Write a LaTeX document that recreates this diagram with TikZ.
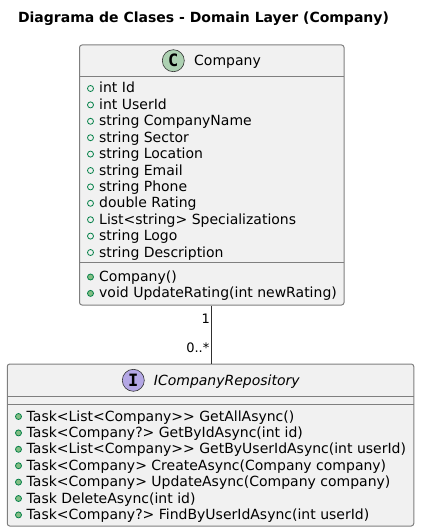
\documentclass[tikz,border=0pt]{standalone}
\usepackage{fontspec}
\setmainfont{DejaVu Sans}
\newfontfamily\spotfont{DejaVu Sans Mono}
\definecolor{boxfill}{HTML}{F1F1F1}
\definecolor{boxline}{HTML}{7F7F7F}
\definecolor{linkline}{HTML}{303030}
\definecolor{classspot}{HTML}{ADD1B2}
\definecolor{ifacespot}{HTML}{B4A7E5}
\definecolor{publine}{HTML}{038048}
\definecolor{pubfill}{HTML}{84BE84}
\tikzset{
    umlbox/.style={draw=boxline, fill=boxfill, line width=1pt, rounded corners=2.5pt, inner sep=0pt},
    sepline/.style={draw=boxline, line width=1pt},
    spot/.style={circle, draw=linkline, line width=0.6pt, minimum size=22pt, inner sep=0pt, font=\spotfont\bfseries\fontsize{17}{17}\selectfont},
    boxname/.style={anchor=base west, inner sep=0pt, font=\fontsize{14}{16}\selectfont},
    member/.style={anchor=base west, inner sep=0pt, font=\fontsize{14}{16}\selectfont},
    attrdot/.style={circle, draw=publine, line width=0.8pt, minimum size=6pt, inner sep=0pt},
    methdot/.style={circle, draw=publine, fill=pubfill, line width=0.8pt, minimum size=6pt, inner sep=0pt},
    multi/.style={inner sep=0pt, font=\fontsize{13}{15}\selectfont}
}
\begin{document}
\begin{tikzpicture}[x=1pt, y=-1pt]
    \useasboundingbox (0, 0) rectangle (420, 532);
    \node[anchor=base, inner sep=0pt, font=\bfseries\fontsize{14}{16}\selectfont] (title) at (203.5, 23) {Diagrama de Clases - Domain Layer (Company)};

    % class box
    \node[umlbox, minimum width=264.5pt, minimum height=260pt] (company) at (211.75, 175) {};
    \draw[sepline] (79.5, 77) -- (344, 77);
    \draw[sepline] (79.5, 262) -- (344, 262);
    \node[spot, fill=classspot] (companyspot) at (173.3, 60.7) {C};
    \node[boxname] (companyname) at (194, 65.5) {Company};

    \node[attrdot] (dot1) at (90.5, 88.5) {};
    \node[member] (attr1) at (99, 93) {int Id};
    \node[attrdot] (dot2) at (90.5, 104.9) {};
    \node[member] (attr2) at (99, 109.4) {int UserId};
    \node[attrdot] (dot3) at (90.5, 121.3) {};
    \node[member] (attr3) at (99, 125.8) {string CompanyName};
    \node[attrdot] (dot4) at (90.5, 137.7) {};
    \node[member] (attr4) at (99, 142.2) {string Sector};
    \node[attrdot] (dot5) at (90.5, 154.1) {};
    \node[member] (attr5) at (99, 158.6) {string Location};
    \node[attrdot] (dot6) at (90.5, 170.5) {};
    \node[member] (attr6) at (99, 175) {string Email};
    \node[attrdot] (dot7) at (90.5, 186.9) {};
    \node[member] (attr7) at (99, 191.4) {string Phone};
    \node[attrdot] (dot8) at (90.5, 203.3) {};
    \node[member] (attr8) at (99, 207.8) {double Rating};
    \node[attrdot] (dot9) at (90.5, 219.7) {};
    \node[member] (attr9) at (99, 224.2) {List<string> Specializations};
    \node[attrdot] (dot10) at (90.5, 236.1) {};
    \node[member] (attr10) at (99, 240.6) {string Logo};
    \node[attrdot] (dot11) at (90.5, 252.5) {};
    \node[member] (attr11) at (99, 257) {string Description};

    \node[methdot] (dot12) at (90.5, 277) {};
    \node[member] (meth1) at (99, 281.5) {Company()};
    \node[methdot] (dot13) at (90.5, 293.4) {};
    \node[member] (meth2) at (99, 297.9) {void UpdateRating(int newRating)};

    % interface box
    \node[umlbox, minimum width=406.5pt, minimum height=162pt] (repo) at (210.5, 445) {};
    \draw[sepline] (7.5, 396.7) -- (413.7, 396.7);
    \draw[sepline] (7.5, 404.5) -- (413.7, 404.5);
    \node[spot, fill=ifacespot] (repospot) at (133.3, 380.3) {I};
    \node[boxname, font=\itshape\fontsize{14}{16}\selectfont] (reponame) at (153.7, 385) {ICompanyRepository};

    \node[methdot] (dot14) at (18.5, 416.5) {};
    \node[member] (task1) at (26.5, 421) {Task<List<Company>{}> GetAllAsync()};
    \node[methdot] (dot15) at (18.5, 432.9) {};
    \node[member] (task2) at (26.5, 437.4) {Task<Company?> GetByIdAsync(int id)};
    \node[methdot] (dot16) at (18.5, 449.3) {};
    \node[member] (task3) at (26.5, 453.8) {Task<List<Company>{}> GetByUserIdAsync(int userId)};
    \node[methdot] (dot17) at (18.5, 465.7) {};
    \node[member] (task4) at (26.5, 470.2) {Task<Company> CreateAsync(Company company)};
    \node[methdot] (dot18) at (18.5, 482.1) {};
    \node[member] (task5) at (26.5, 486.6) {Task<Company> UpdateAsync(Company company)};
    \node[methdot] (dot19) at (18.5, 498.5) {};
    \node[member] (task6) at (26.5, 503) {Task DeleteAsync(int id)};
    \node[methdot] (dot20) at (18.5, 514.9) {};
    \node[member] (task7) at (26.5, 519.4) {Task<Company?> FindByUserIdAsync(int userId)};

    % association
    \draw[draw=linkline, line width=1pt] (company.south) -- (company.south |- repo.north);
    \node[multi, anchor=east] (multione) at (210, 319) {1};
    \node[multi, anchor=east] (multimany) at (209.5, 348) {0..*};
\end{tikzpicture}
\end{document}
